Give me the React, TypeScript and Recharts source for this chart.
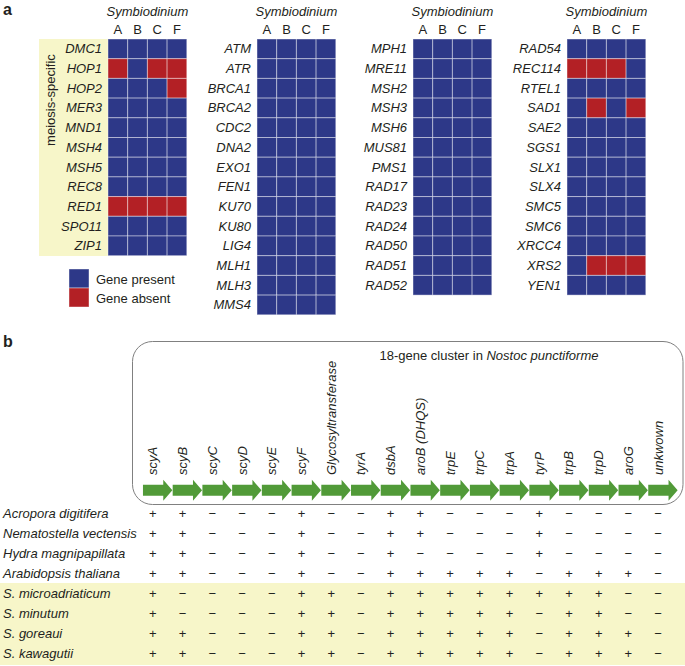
import React from 'react';
import { ScatterChart, Scatter, XAxis, YAxis } from 'recharts';

// ---------- Panel a data ----------
const strains = ['A', 'B', 'C', 'F'];
const genesMeiosis = ['DMC1', 'HOP1', 'HOP2', 'MER3', 'MND1', 'MSH4', 'MSH5', 'REC8', 'RED1', 'SPO11', 'ZIP1'];
const genesGroup2 = ['ATM', 'ATR', 'BRCA1', 'BRCA2', 'CDC2', 'DNA2', 'EXO1', 'FEN1', 'KU70', 'KU80', 'LIG4', 'MLH1', 'MLH3', 'MMS4'];
const genesGroup3 = ['MPH1', 'MRE11', 'MSH2', 'MSH3', 'MSH6', 'MUS81', 'PMS1', 'RAD17', 'RAD23', 'RAD24', 'RAD50', 'RAD51', 'RAD52'];
const genesGroup4 = ['RAD54', 'REC114', 'RTEL1', 'SAD1', 'SAE2', 'SGS1', 'SLX1', 'SLX4', 'SMC5', 'SMC6', 'XRCC4', 'XRS2', 'YEN1'];
// strains in which a gene is absent
const absentHOP1 = ['A', 'C', 'F'];
const absentHOP2 = ['F'];
const absentRED1 = ['A', 'B', 'C', 'F'];
const absentREC114 = ['A', 'B', 'C'];
const absentSAD1 = ['B', 'F'];
const absentXRS2 = ['B', 'C', 'F'];
const absentMap: Record<string, string[]> = {
  HOP1: absentHOP1, HOP2: absentHOP2, RED1: absentRED1,
  REC114: absentREC114, SAD1: absentSAD1, XRS2: absentXRS2,
};

// ---------- Panel b data ----------
const clusterGenes = ['scyA', 'scyB', 'scyC', 'scyD', 'scyE', 'scyF', 'Glycosyltransferase', 'tyrA', 'dsbA', 'aroB (DHQS)', 'trpE', 'trpC', 'trpA', 'tyrP', 'trpB', 'trpD', 'aroG', 'unkwown'];
const species = ['Acropora digitifera', 'Nematostella vectensis', 'Hydra magnipapillata', 'Arabidopsis thaliana', 'S. microadriaticum', 'S. minutum', 'S. goreaui', 'S. kawagutii'];
const P = '+';
const M = '\u2212';
const rowAcropora = [P, P, M, M, M, P, M, M, P, P, M, M, M, P, M, M, M, M];
const rowNematostella = [P, P, M, M, M, P, M, M, P, P, M, M, M, P, M, M, M, M];
const rowHydra = [P, P, M, M, M, P, M, M, P, M, M, M, M, P, M, M, M, M];
const rowArabidopsis = [P, P, M, M, M, P, M, M, P, P, P, P, P, M, P, P, P, M];
const rowMicroadriaticum = [P, M, M, M, M, P, P, M, P, P, P, P, P, P, P, P, M, M];
const rowMinutum = [P, M, M, M, M, P, P, M, P, P, P, P, P, M, P, P, M, M];
const rowGoreaui = [P, P, M, M, M, P, P, M, P, P, P, P, P, M, P, P, P, M];
const rowKawagutii = [P, P, M, M, M, P, P, M, P, P, P, P, P, M, P, P, P, M];
const presence = [rowAcropora, rowNematostella, rowHydra, rowArabidopsis, rowMicroadriaticum, rowMinutum, rowGoreaui, rowKawagutii];
const ARROW_ROW = -1.18;

// ---------- styles ----------
const FONT = '"Liberation Sans", Arial, Helvetica, sans-serif';
const BLUE = '#2D3888';
const RED = '#B32025';
const GREEN = '#519A38';
const YELLOW = '#F7F6C9';
const TXT = '#231F20';
const CELL = 19.7;
const GRID_TOP = 39;

const HeatCell = (props: any) => {
  const { cx, cy, payload } = props;
  if (cx == null || cy == null) return null;
  return (
    <rect
      x={cx - CELL / 2}
      y={cy - CELL / 2}
      width={CELL}
      height={CELL}
      fill={payload.absent ? RED : BLUE}
      stroke="rgba(255,255,255,0.42)"
      strokeWidth={1}
    />
  );
};

function Heatmap({ genes, plotLeft }: { genes: string[]; plotLeft: number }) {
  const yAxisW = 100;
  const xAxisH = GRID_TOP;
  const w = yAxisW + 4 * CELL + 2;
  const h = xAxisH + genes.length * CELL + 2;
  const data = genes.flatMap((g, i) =>
    strains.map((s, j) => ({ x: j, y: i, gene: g, strain: s, absent: (absentMap[g] || []).includes(s) }))
  );
  const xTick = (p: any) => (
    <text x={p.x} y={p.y} textAnchor="middle" fontSize={13} fontFamily={FONT} fill={TXT}>
      {strains[p.payload.value]}
    </text>
  );
  const yTick = (p: any) => (
    <text x={p.x} y={p.y} dy="0.35em" textAnchor="end" fontSize={13} fontStyle="italic" fontFamily={FONT} fill={TXT}>
      {genes[p.payload.value]}
    </text>
  );
  return (
    <div style={{ position: 'absolute', left: plotLeft - yAxisW, top: 0 }}>
      <ScatterChart width={w} height={h} margin={{ top: 0, right: 2, bottom: 2, left: 0 }}>
        <XAxis
          type="number"
          dataKey="x"
          orientation="top"
          domain={[-0.5, 3.5]}
          ticks={[0, 1, 2, 3]}
          interval={0}
          height={xAxisH}
          axisLine={false}
          tickLine={false}
          tickSize={0}
          tickMargin={4.5}
          tick={xTick}
        />
        <YAxis
          type="number"
          dataKey="y"
          reversed
          domain={[-0.5, genes.length - 0.5]}
          ticks={genes.map((_, i) => i)}
          interval={0}
          width={yAxisW}
          axisLine={false}
          tickLine={false}
          tickSize={0}
          tickMargin={6}
          tick={yTick}
        />
        <Scatter data={data} shape={HeatCell} isAnimationActive={false} />
      </ScatterChart>
    </div>
  );
}

const GeneTick = (p: any) => (
  <text
    transform={`translate(${p.x + 4.5},${p.y + 1}) rotate(-90)`}
    textAnchor="start"
    fontSize={13}
    fontStyle="italic"
    fontFamily={FONT}
    fill={TXT}
  >
    {clusterGenes[p.payload.value]}
  </text>
);

const SpeciesTick = (p: any) => (
  <text x={3} y={p.y} dy="0.35em" textAnchor="start" fontSize={13} fontStyle="italic" fontFamily={FONT} fill={TXT}>
    {species[p.payload.value]}
  </text>
);

const SignShape = (props: any) => {
  const { cx, cy, payload } = props;
  if (cx == null || cy == null) return null;
  return (
    <text x={cx} y={cy} dy="0.35em" textAnchor="middle" fontSize={13} fontFamily={FONT} fill={TXT}>
      {payload.v}
    </text>
  );
};

const ArrowShape = (props: any) => {
  const { cx, cy } = props;
  if (cx == null || cy == null) return null;
  const pts = [
    [-9.9, -5.5], [10.4, -5.5], [10.4, -10.5], [19.5, 0], [10.4, 10.5], [10.4, 5.5], [-9.9, 5.5],
  ]
    .map(([dx, dy]) => `${cx + dx},${cy + dy}`)
    .join(' ');
  return <polygon points={pts} fill={GREEN} />;
};

function GeneTable() {
  const cells = species.flatMap((sp, r) => presence[r].map((v, c) => ({ col: c, row: r, v, sp })));
  const arrows = clusterGenes.map((g, c) => ({ col: c, row: ARROW_ROW, gene: g }));
  return (
    <div style={{ position: 'absolute', left: 0, top: 354 }}>
      <ScatterChart width={685} height={312} margin={{ top: 0, right: 12, bottom: 1, left: 0 }}>
        <XAxis
          type="number"
          dataKey="col"
          orientation="top"
          domain={[-0.5, 17.5]}
          ticks={clusterGenes.map((_, i) => i)}
          interval={0}
          height={120}
          axisLine={false}
          tickLine={false}
          tickSize={0}
          tickMargin={0}
          tick={GeneTick}
        />
        <YAxis
          type="number"
          dataKey="row"
          reversed
          domain={[-2, 7.6]}
          ticks={species.map((_, i) => i)}
          interval={0}
          width={138}
          axisLine={false}
          tickLine={false}
          tickSize={0}
          tick={SpeciesTick}
        />
        <Scatter data={arrows} shape={ArrowShape} isAnimationActive={false} />
        <Scatter data={cells} shape={SignShape} isAnimationActive={false} />
      </ScatterChart>
    </div>
  );
}

const grids = [
  { genes: genesMeiosis, plotLeft: 108 },
  { genes: genesGroup2, plotLeft: 257 },
  { genes: genesGroup3, plotLeft: 413 },
  { genes: genesGroup4, plotLeft: 567 },
];

export default function App() {
  return (
    <div
      style={{
        position: 'absolute',
        left: 0,
        top: 0,
        width: 685,
        height: 666,
        background: '#fff',
        overflow: 'hidden',
        fontFamily: FONT,
      }}
    >
      <svg width={685} height={666} style={{ position: 'absolute', left: 0, top: 0 }}>
        <text x={3} y={15} fontSize={16} fontWeight="bold" fontFamily={FONT} fill={TXT}>a</text>
        <text x={3} y={347} fontSize={16} fontWeight="bold" fontFamily={FONT} fill={TXT}>b</text>
        <rect x={39} y={GRID_TOP} width={69} height={217} fill={YELLOW} />
        <text
          transform="translate(54.5,100) rotate(-90)"
          textAnchor="middle"
          fontSize={13}
          fontFamily={FONT}
          fill={TXT}
        >
          meiosis-specific
        </text>
        {grids.map((g, i) => (
          <text
            key={i}
            x={g.plotLeft + 2 * CELL}
            y={15.5}
            textAnchor="middle"
            fontSize={13}
            fontStyle="italic"
            fontFamily={FONT}
            fill={TXT}
          >
            Symbiodinium
          </text>
        ))}
        <rect x={69} y={269} width={20} height={19} fill={BLUE} stroke="rgba(255,255,255,0.42)" />
        <rect x={69} y={288} width={20} height={19} fill={RED} stroke="rgba(255,255,255,0.42)" />
        <text x={96} y={279} dy="0.35em" fontSize={13} fontFamily={FONT} fill={TXT}>Gene present</text>
        <text x={96} y={298} dy="0.35em" fontSize={13} fontFamily={FONT} fill={TXT}>Gene absent</text>
        <rect x={0} y={583} width={685} height={82} fill={YELLOW} />
        <rect x={132.5} y={341.5} width={550.5} height={163} rx={20} ry={20} fill="none" stroke="#808080" strokeWidth={1} />
        <text x={489} y={355} dy="0.35em" textAnchor="middle" fontSize={13} fontFamily={FONT} fill={TXT}>
          18-gene cluster in <tspan fontStyle="italic">Nostoc punctiforme</tspan>
        </text>
      </svg>
      {grids.map((g, i) => (
        <Heatmap key={i} genes={g.genes} plotLeft={g.plotLeft} />
      ))}
      <GeneTable />
    </div>
  );
}
